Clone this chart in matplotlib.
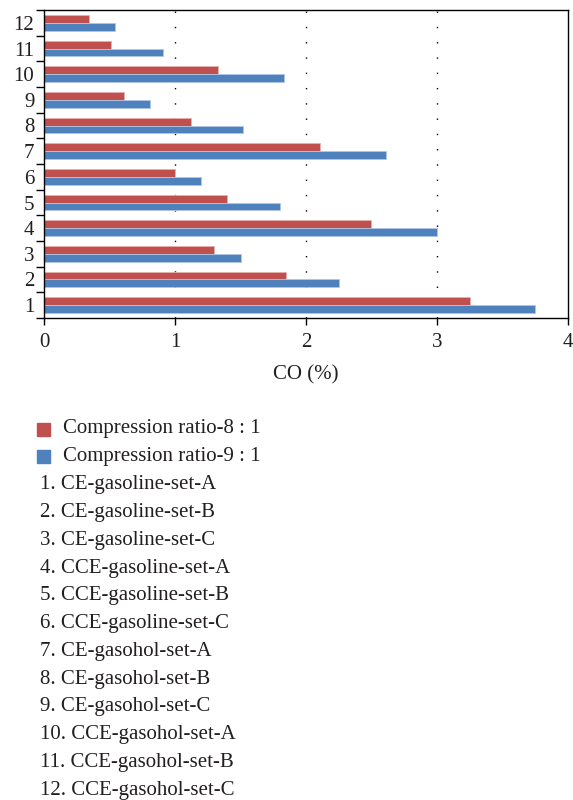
import numpy as np
import matplotlib.pyplot as plt
from matplotlib.patches import Rectangle

plt.rcParams['font.family'] = ['Liberation Serif', 'DejaVu Serif']

# --- DATA ---
cases = [str(i) for i in range(1, 13)]
case_names = [
    "CE-gasoline-set-A", "CE-gasoline-set-B", "CE-gasoline-set-C",
    "CCE-gasoline-set-A", "CCE-gasoline-set-B", "CCE-gasoline-set-C",
    "CE-gasohol-set-A", "CE-gasohol-set-B", "CE-gasohol-set-C",
    "CCE-gasohol-set-A", "CCE-gasohol-set-B", "CCE-gasohol-set-C",
]
co_cr8 = [3.25, 1.85, 1.30, 2.50, 1.40, 1.00, 2.11, 1.12, 0.61, 1.33, 0.51, 0.34]
co_cr9 = [3.75, 2.25, 1.50, 3.00, 1.80, 1.20, 2.61, 1.52, 0.81, 1.83, 0.91, 0.54]
series_labels = ["Compression ratio-8 : 1", "Compression ratio-9 : 1"]
series_colors = ["#C0504D", "#4F81BD"]
txt_color = '#231F20'

fig = plt.figure(figsize=(5.73, 8.0), dpi=100)
ax = fig.add_axes([0.077, 0.6025, 0.914, 0.385])

y = np.arange(1, len(cases) + 1)
h = 0.3
ax.barh(y + h / 2, co_cr8, height=h, color=series_colors[0],
        edgecolor="#E6B0AE", linewidth=0.6, zorder=2)
ax.barh(y - h / 2, co_cr9, height=h, color=series_colors[1],
        edgecolor="#AFC6E6", linewidth=0.6, zorder=2)

ax.set_xlim(0, 4)
ax.set_ylim(0.5, len(cases) + 0.5)
ax.set_xticks([0, 1, 2, 3, 4])
ax.set_yticks(y)
ax.set_yticklabels(cases)
ax.set_yticks(np.arange(0.5, len(cases) + 1), minor=True)
ax.tick_params(axis='y', which='major', length=0, pad=7, labelsize=15, labelcolor=txt_color)
ax.tick_params(axis='y', which='minor', length=6, width=1, direction='out')
ax.tick_params(axis='x', length=5, width=1, direction='out', labelsize=15, pad=6,
               labelcolor=txt_color)
for x in [1, 2, 3]:
    ax.axvline(x, color='black', linewidth=1, linestyle=(0, (1, 10)), zorder=1)
for s in ax.spines.values():
    s.set_linewidth(1)
ax.set_xlabel("CO (%)", fontsize=15, labelpad=9, color=txt_color)

# legend + case list under the chart
row = 27.8 / 800
y0 = 1 - 429 / 800
for i, (lab, col) in enumerate(zip(series_labels, series_colors)):
    yy = y0 - i * row
    fig.patches.append(Rectangle((37 / 573, yy - 6.5 / 800), 13 / 573, 13 / 800,
                                 transform=fig.transFigure, color=col))
    fig.text(63 / 573, yy, lab, fontsize=15, va='center', color=txt_color)
for i, name in enumerate(case_names):
    yy = y0 - (i + 2) * row
    fig.text(40 / 573, yy, f"{cases[i]}. {name}", fontsize=15, va='center', color=txt_color)

fig.savefig("out.png", dpi=100)
